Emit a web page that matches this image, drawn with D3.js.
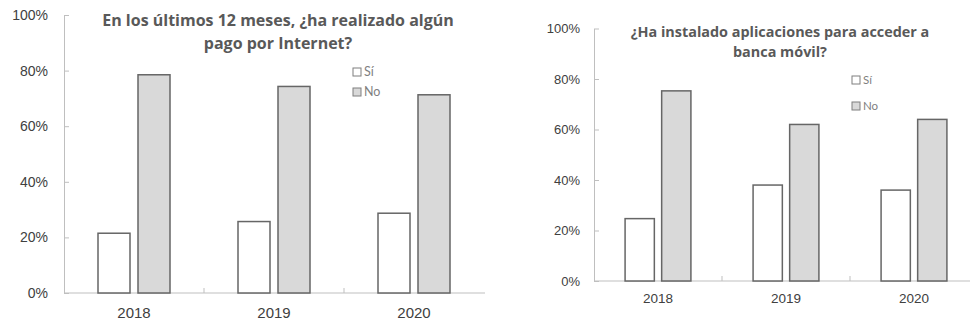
<!DOCTYPE html>
<html>
<head>
<meta charset="utf-8">
<script src="https://cdn.jsdelivr.net/npm/d3@7"></script>
<style>
  html, body { margin: 0; padding: 0; background: #fff; }
  svg { display: block; font-family: Lato, "Open Sans", sans-serif; }
</style>
</head>
<body>
<svg id="chart" width="970" height="324"></svg>
<script>
// Survey years and answer categories
const years = ["2018", "2019", "2020"];
const answers = ["Sí", "No"];
const yTicks = [0, 20, 40, 60, 80, 100];

// Online payment in the last 12 months (% of respondents)
const pagoSi = [21.5, 25.7, 28.7];
const pagoNo = [78.5, 74.3, 71.3];

// Mobile banking apps installed (% of respondents)
const bancaSi = [24.7, 38.0, 36.0];
const bancaNo = [75.3, 62.0, 64.0];

const pagoTitle = ["En los últimos 12 meses, ¿ha realizado algún", "pago por Internet?"];
const bancaTitle = ["¿Ha instalado aplicaciones para acceder a", "banca móvil?"];

const fills = { "Sí": "#ffffff", "No": "#d9d9d9" };

const svg = d3.select("#chart");

function drawPanel(opt) {
  const g = svg.append("g");
  const rows = years.map((yr, i) => ({ year: yr, "Sí": opt.si[i], "No": opt.no[i] }));

  const x0 = d3.scaleBand().domain(years).range([opt.left, opt.right]);
  const x1 = d3.scaleBand().domain(answers).range([0, x0.bandwidth()])
    .paddingInner(0.2).paddingOuter(0.85);
  const y = d3.scaleLinear().domain([0, 100]).range([opt.bottom, opt.top]);

  // value axis, ticks pointing into the plot
  const yAxis = d3.axisLeft(y).tickValues(yTicks).tickFormat(d => d + "%")
    .tickSizeInner(-5).tickSizeOuter(0).tickPadding(opt.tickPad);
  const ya = g.append("g").attr("transform", `translate(${opt.left},0)`).call(yAxis);
  ya.select(".domain").attr("stroke", "#bfbfbf");
  ya.selectAll(".tick line").attr("stroke", "#bfbfbf");
  ya.selectAll(".tick text").attr("fill", "#404040")
    .style("font-size", opt.tickFont + "px");

  // category axis
  const xa = g.append("g").attr("transform", `translate(0,${opt.bottom})`)
    .call(d3.axisBottom(x0).tickSize(0).tickPadding(opt.yearPad));
  xa.select(".domain").attr("stroke", "#bfbfbf").attr("d", `M${opt.left},0H${opt.axisEnd}`);
  xa.selectAll(".tick text").attr("fill", "#404040")
    .style("font-size", opt.yearFont + "px");
  g.selectAll(".sep").data(years.slice(1)).join("line")
    .attr("x1", d => x0(d)).attr("x2", d => x0(d))
    .attr("y1", opt.bottom).attr("y2", opt.bottom - 5)
    .attr("stroke", "#bfbfbf");

  // bars
  g.append("g").selectAll("g").data(rows).join("g")
    .attr("transform", d => `translate(${x0(d.year)},0)`)
    .selectAll("rect").data(d => answers.map(k => ({ key: k, value: d[k] }))).join("rect")
    .attr("x", d => x1(d.key))
    .attr("width", x1.bandwidth())
    .attr("y", d => y(d.value))
    .attr("height", d => y(0) - y(d.value))
    .attr("fill", d => fills[d.key])
    .attr("stroke", "#666666")
    .attr("stroke-width", 1.5);

  // title
  g.append("text")
    .attr("text-anchor", "middle")
    .attr("fill", "#595959")
    .attr("font-weight", "bold")
    .style("font-family", "'Open Sans', sans-serif")
    .style("font-size", opt.titleFont + "px")
    .selectAll("tspan").data(opt.title).join("tspan")
    .attr("x", opt.titleX)
    .attr("y", (d, i) => opt.titleY + i * opt.titleGap)
    .text(d => d);

  // legend
  const lg = g.append("g").selectAll("g").data(answers).join("g")
    .attr("transform", (d, i) => `translate(${opt.legX},${opt.legY + i * opt.legGap})`);
  lg.append("rect").attr("x", 0).attr("y", -4).attr("width", 8).attr("height", 8)
    .attr("fill", d => fills[d]).attr("stroke", "#7f7f7f").attr("stroke-width", 1);
  lg.append("text").attr("x", 11).attr("dy", "0.35em")
    .attr("fill", "#7f7f7f").style("font-size", opt.legFont + "px")
    .text(d => d);
}

drawPanel({
  si: pagoSi, no: pagoNo, title: pagoTitle,
  left: 64, right: 484, axisEnd: 485, top: 15, bottom: 293,
  tickPad: 16, tickFont: 14, yearPad: 14, yearFont: 15,
  titleX: 278, titleY: 26, titleGap: 23, titleFont: 16,
  legX: 353, legY: 72, legGap: 20, legFont: 12.5
});

drawPanel({
  si: bancaSi, no: bancaNo, title: bancaTitle,
  left: 594, right: 978, axisEnd: 970, top: 28.5, bottom: 281,
  tickPad: 14, tickFont: 13, yearPad: 12, yearFont: 13.5,
  titleX: 780, titleY: 36.5, titleGap: 20, titleFont: 14.4,
  legX: 852, legY: 80, legGap: 26, legFont: 11.5
});
</script>
</body>
</html>
